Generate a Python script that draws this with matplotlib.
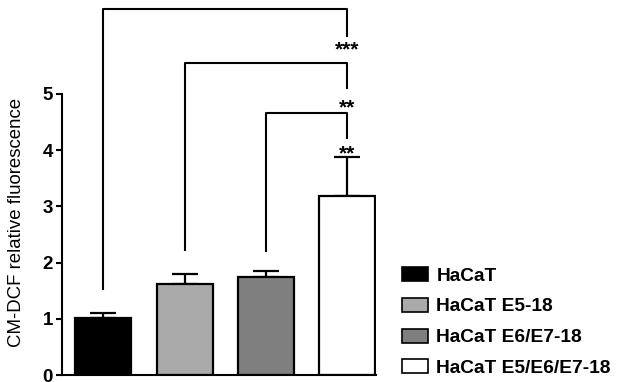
import matplotlib
matplotlib.use("Agg")
import matplotlib.pyplot as plt
from matplotlib.patches import Patch

plt.rcParams['font.family'] = ['Liberation Sans', 'DejaVu Sans']

groups = ["HaCaT", "HaCaT E5-18", "HaCaT E6/E7-18", "HaCaT E5/E6/E7-18"]
means = [1.02, 1.62, 1.74, 3.19]
errs = [0.08, 0.18, 0.11, 0.69]
colors = ["#000000", "#aaaaaa", "#7f7f7f", "#ffffff"]

# significance brackets: (left bar, right bar, top, left leg end, right leg end, star y, label)
brackets = [
    (0, 3, 6.51, 1.53, 6.03, 5.95, "***"),
    (1, 3, 5.55, 2.22, 5.11, 4.93, "**"),
    (2, 3, 4.66, 2.20, 4.21, 4.11, "**"),
]

fig = plt.figure(figsize=(6.18, 3.82), dpi=100)
ax = fig.add_axes([62 / 618, 7 / 382, 314 / 618, 375 / 382])

x = list(range(len(groups)))
bars = ax.bar(x, means, width=0.69, color=colors, edgecolor="black", linewidth=1.6, zorder=2)
ax.errorbar(x, means, yerr=[[0] * len(errs), errs], fmt="none", ecolor="black",
            elinewidth=1.6, capsize=9.5, capthick=1.6, zorder=1)

for i, j, top, lbot, rbot, sy, lab in brackets:
    ax.plot([i, i, j, j], [lbot, top, top, rbot], color="black", lw=1.5, clip_on=False)
    ax.text(j, sy, lab, ha="center", va="top", fontsize=15, fontweight="bold")

ax.set_xlim(-0.51, 3.36)
ax.set_ylim(0, 375 / 56.2)
ax.set_yticks([0, 1, 2, 3, 4, 5])
ax.set_xticks([])
ax.spines['left'].set_bounds(0, 5)
for s in ['top', 'right']:
    ax.spines[s].set_visible(False)
for s in ['left', 'bottom']:
    ax.spines[s].set_linewidth(1.5)
ax.tick_params(axis='y', length=4.5, width=1.5, pad=2, labelsize=13.5)
for t in ax.get_yticklabels():
    t.set_fontweight("bold")
ax.set_ylabel("CM-DCF relative fluorescence", fontsize=13.4)
ax.yaxis.set_label_coords(-0.118, 0.408)

handles = [Patch(facecolor=c, edgecolor="black", linewidth=1.2) for c in colors]
fig.legend(handles, groups, loc="center left", bbox_to_anchor=(402 / 618, 60 / 382),
           frameon=False, prop={"size": 13.8, "weight": "bold"},
           handlelength=1.35, handleheight=0.75, handletextpad=0.45, labelspacing=0.68,
           borderaxespad=0, borderpad=0)

fig.savefig("out.png", dpi=100)
